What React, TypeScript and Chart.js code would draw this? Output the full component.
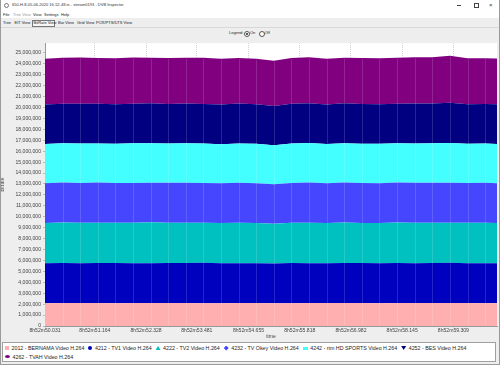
import React, { useEffect, useRef } from "react";
import { Chart, registerables } from "chart.js";

Chart.register(...registerables);

// ---- data ----
const TIMES = [
  50.031, 50.43, 50.83, 51.23, 51.63, 52.03, 52.43, 52.83, 53.23, 53.63, 54.03, 54.43, 54.83, 55.23,
  55.63, 56.03, 56.43, 56.83, 57.23, 57.63, 58.03, 58.43, 58.83, 59.23, 59.63, 60.03, 60.3,
];
const TICK_TIMES = [50.031, 51.164, 52.328, 53.481, 54.655, 55.818, 56.982, 58.145, 59.309];
const TIME_PREFIX = "8h52m";
const Y_TICKS = [
  0, 1000000, 2000000, 3000000, 4000000, 5000000, 6000000, 7000000, 8000000, 9000000, 10000000,
  11000000, 12000000, 13000000, 14000000, 15000000, 16000000, 17000000, 18000000, 19000000, 20000000,
  21000000, 22000000, 23000000, 24000000, 25000000,
];

const SERIES_NAMES = [
  "2012 - BERNAMA Video H.264",
  "4212 - TV1 Video H.264",
  "4222 - TV2 Video H.264",
  "4232 - TV Okey Video H.264",
  "4242 - rtm HD SPORTS Video H.264",
  "4252 - BES Video H.264",
  "4262 - TVAH Video H.264",
];
const COLORS = ["#ffafaf", "#0000bf", "#00c0c0", "#4646ff", "#44ffff", "#000080", "#800080"];
const MARKERS = ["square", "circle", "triangle", "diamond", "rect", "down", "ellipse"];

const BERNAMA = [2090000, 2100000, 2095000, 2105000, 2090000, 2100000, 2110000, 2095000, 2100000, 2090000, 2085000, 2100000, 2095000, 2080000, 2090000, 2100000, 2105000, 2095000, 2100000, 2090000, 2095000, 2100000, 2105000, 2110000, 2095000, 2090000, 2100000];
const TV1 = [3650000, 3670000, 3640000, 3660000, 3680000, 3650000, 3640000, 3670000, 3660000, 3690000, 3650000, 3640000, 3660000, 3630000, 3670000, 3650000, 3640000, 3680000, 3660000, 3650000, 3670000, 3640000, 3660000, 3690000, 3650000, 3660000, 3640000];
const TV2 = [3680000, 3700000, 3720000, 3690000, 3670000, 3700000, 3740000, 3690000, 3680000, 3660000, 3700000, 3720000, 3680000, 3650000, 3690000, 3710000, 3680000, 3700000, 3670000, 3690000, 3720000, 3700000, 3680000, 3660000, 3700000, 3690000, 3680000];
const TV_OKEY = [3640000, 3660000, 3630000, 3670000, 3650000, 3640000, 3620000, 3660000, 3680000, 3650000, 3630000, 3660000, 3640000, 3610000, 3650000, 3670000, 3640000, 3660000, 3650000, 3630000, 3640000, 3680000, 3660000, 3650000, 3640000, 3670000, 3650000];
const RTM_HD = [3590000, 3600000, 3620000, 3580000, 3600000, 3630000, 3610000, 3590000, 3600000, 3620000, 3580000, 3590000, 3610000, 3570000, 3600000, 3620000, 3590000, 3600000, 3610000, 3630000, 3600000, 3590000, 3620000, 3650000, 3600000, 3590000, 3600000];
const BES = [3630000, 3620000, 3650000, 3640000, 3610000, 3630000, 3660000, 3620000, 3640000, 3610000, 3630000, 3650000, 3620000, 3600000, 3640000, 3630000, 3610000, 3650000, 3640000, 3620000, 3630000, 3660000, 3640000, 3680000, 3620000, 3630000, 3640000];
const TVAH = [4180000, 4200000, 4230000, 4190000, 4210000, 4220000, 4170000, 4200000, 4190000, 4230000, 4200000, 4180000, 4150000, 4140000, 4190000, 4210000, 4200000, 4180000, 4210000, 4190000, 4200000, 4220000, 4230000, 4290000, 4200000, 4190000, 4180000];
const SERIES = [BERNAMA, TV1, TV2, TV_OKEY, RTM_HD, BES, TVAH];

const X_MAX = 60.3;
const Y_MAX = 25900000;

const FONT = "'Liberation Sans', Arial, sans-serif";

const plotBg = {
  id: "plotBg",
  beforeDraw(chart: any) {
    const { ctx, chartArea } = chart;
    ctx.save();
    ctx.fillStyle = "#ffffff";
    ctx.fillRect(chartArea.left, chartArea.top, chartArea.right - chartArea.left, chartArea.bottom - chartArea.top);
    ctx.restore();
  },
};

// faint seams between the area segments, at each sample time (as in the original renderer)
const seams = {
  id: "seams",
  afterDatasetsDraw(chart: any) {
    const { ctx, chartArea, scales } = chart;
    const top = chart.getDatasetMeta(SERIES.length - 1).data;
    ctx.save();
    ctx.beginPath();
    ctx.rect(chartArea.left, chartArea.top, chartArea.right - chartArea.left, chartArea.bottom - chartArea.top);
    ctx.clip();
    ctx.strokeStyle = "rgba(255,255,255,0.14)";
    ctx.lineWidth = 1;
    for (let j = 1; j < TIMES.length - 1; j++) {
      const x = Math.round(scales.x.getPixelForValue(TIMES[j])) + 0.5;
      const yTop = top[j].y;
      ctx.beginPath();
      ctx.moveTo(x, chartArea.bottom);
      ctx.lineTo(x, yTop + 1);
      ctx.stroke();
    }
    ctx.restore();
  },
};

function Marker({ kind, color }: { kind: string; color: string }) {
  const base: React.CSSProperties = { display: "inline-block", background: color, marginRight: 2.5, verticalAlign: "middle", position: "relative", top: -0.5 };
  let st: React.CSSProperties = { width: 4, height: 4 };
  if (kind === "circle") st = { width: 4, height: 4, borderRadius: "50%" };
  if (kind === "triangle") st = { width: 5, height: 4, clipPath: "polygon(50% 0,100% 100%,0 100%)" };
  if (kind === "diamond") st = { width: 5, height: 5, clipPath: "polygon(50% 0,100% 50%,50% 100%,0 50%)" };
  if (kind === "rect") st = { width: 5, height: 3 };
  if (kind === "down") st = { width: 5, height: 4, clipPath: "polygon(0 0,100% 0,50% 100%)" };
  if (kind === "ellipse") st = { width: 5, height: 3, borderRadius: "50%" };
  return <span style={{ ...base, ...st }} />;
}

export default function App() {
  const ref = useRef<HTMLCanvasElement | null>(null);

  useEffect(() => {
    const canvas = ref.current!;
    const datasets = SERIES.map((vals, i) => ({
      label: SERIES_NAMES[i],
      data: vals.map((v, j) => ({ x: TIMES[j], y: v })),
      backgroundColor: COLORS[i],
      borderColor: COLORS[i],
      borderWidth: 0,
      pointRadius: 0,
      fill: i === 0 ? "origin" : "-1",
      tension: 0,
    }));
    const chart = new Chart(canvas, {
      type: "line",
      data: { datasets },
      plugins: [plotBg, seams],
      options: {
        animation: false,
        responsive: false,
        layout: { padding: { top: 3, right: 3, left: 0, bottom: 0 } },
        plugins: { legend: { display: false }, tooltip: { enabled: false } },
        scales: {
          x: {
            type: "linear",
            min: TIMES[0],
            max: X_MAX,
            afterBuildTicks: (s: any) => {
              s.ticks = TICK_TIMES.map((v) => ({ value: v }));
            },
            afterFit: (s: any) => {
              s.height = 14;
            },
            ticks: {
              autoSkip: false,
              maxRotation: 0,
              padding: 0,
              color: "#444",
              font: { family: FONT, size: 5.1 },
              callback: (v: any) => TIME_PREFIX + Number(v).toFixed(3),
            },
            grid: { color: "#d2d2d2", tickLength: 2, drawTicks: true },
            border: { color: "#999", dash: [1, 1] },
            title: { display: true, text: "time", color: "#444", font: { family: FONT, size: 5.1 }, padding: 0 },
          },
          y: {
            type: "linear",
            stacked: true,
            min: 0,
            max: Y_MAX,
            afterBuildTicks: (s: any) => {
              s.ticks = Y_TICKS.map((v) => ({ value: v }));
            },
            afterFit: (s: any) => {
              s.width = 45;
            },
            ticks: {
              autoSkip: false,
              padding: 2,
              color: "#444",
              font: { family: FONT, size: 5.1 },
              callback: (v: any) => Number(v).toLocaleString("en-US"),
            },
            grid: { color: "#bbbbbb", tickLength: 2, drawOnChartArea: false },
            border: { color: "#999" },
            title: { display: true, text: "bitrate", color: "#444", font: { family: FONT, size: 5.1 }, padding: 0 },
          },
        },
      } as any,
    });
    return () => chart.destroy();
  }, []);

  const small: React.CSSProperties = { position: "absolute", fontFamily: FONT, fontSize: 4, color: "#222", whiteSpace: "nowrap", lineHeight: "6px" };

  return (
    <div style={{ position: "fixed", left: 0, top: 0, width: 500, height: 365, background: "#eeeeee", overflow: "hidden", fontFamily: FONT, boxSizing: "border-box", borderLeft: "1px solid #9a9a9a", borderRight: "1px solid #9a9a9a", borderBottom: "1px solid #9a9a9a" }}>
      {/* title bar */}
      <div style={{ position: "absolute", left: 0, top: 0, width: 500, height: 10, background: "#ffffff" }} />
      <div style={{ position: "absolute", left: 3, top: 3, width: 3, height: 3, borderRadius: "50%", border: "0.7px solid #777" }} />
      <div style={{ ...small, left: 11, top: 2, color: "#333" }}>650-H-8-05-06-2020 16-52-48.ts - stream0193 - DVB Inspector</div>
      <div style={{ position: "absolute", left: 456, top: 5, width: 4, height: 0.7, background: "#444" }} />
      <div style={{ position: "absolute", left: 473, top: 3, width: 3, height: 3, border: "0.7px solid #444" }} />
      <div style={{ ...small, left: 488, top: 1.5, fontSize: 6, color: "#333" }}>×</div>
      {/* menu bar */}
      <div style={{ position: "absolute", left: 0, top: 10, width: 500, height: 8, background: "#ffffff" }} />
      <div style={{ ...small, left: 2, top: 11.5 }}>File</div>
      <div style={{ ...small, left: 12, top: 11.5, color: "#999" }}>Tree View</div>
      <div style={{ ...small, left: 32, top: 11.5 }}>View</div>
      <div style={{ ...small, left: 43, top: 11.5 }}>Settings</div>
      <div style={{ ...small, left: 60, top: 11.5 }}>Help</div>
      {/* tabs */}
      <div style={{ position: "absolute", left: 0, top: 18, width: 500, height: 9, background: "#eeeeee", borderBottom: "1px solid #d8d8d8" }} />
      <div style={{ ...small, left: 2, top: 20 }}>Tree</div>
      <div style={{ ...small, left: 13.5, top: 20 }}>EIT View</div>
      <div style={{ position: "absolute", left: 31, top: 19.5, width: 23, height: 7, border: "0.6px solid #777", background: "#f6f6f6", boxSizing: "border-box" }} />
      <div style={{ ...small, left: 32.5, top: 20 }}>BitRate View</div>
      <div style={{ ...small, left: 57, top: 20 }}>Bar View</div>
      <div style={{ ...small, left: 76, top: 20 }}>Grid View</div>
      <div style={{ ...small, left: 95, top: 20 }}>PCR/PTS/DTS View</div>
      {/* legend radio */}
      <div style={{ ...small, left: 228, top: 30 }}>Legend:</div>
      <div style={{ position: "absolute", left: 243, top: 30.5, width: 4, height: 4, borderRadius: "50%", border: "0.6px solid #555", background: "#fff" }}>
        <div style={{ position: "absolute", left: 1, top: 1, width: 2, height: 2, borderRadius: "50%", background: "#222" }} />
      </div>
      <div style={{ ...small, left: 249, top: 30 }}>On</div>
      <div style={{ position: "absolute", left: 258, top: 30.5, width: 4, height: 4, borderRadius: "50%", border: "0.6px solid #555", background: "#fff" }} />
      <div style={{ ...small, left: 263.5, top: 30 }}>Off</div>
      {/* chart */}
      <canvas ref={ref} width={500} height={302} style={{ position: "absolute", left: -1, top: 38, width: 500, height: 302 }} />
      {/* legend */}
      <div
        style={{
          position: "absolute",
          left: 1,
          top: 342,
          width: 494,
          height: 20,
          background: "#ffffff",
          border: "1px solid #a0a0a0",
          boxSizing: "border-box",
          padding: "1px 2px",
          display: "flex",
          flexWrap: "wrap",
          alignContent: "flex-start",
        }}
      >
        {SERIES_NAMES.map((n, i) => (
          <span key={n} style={{ fontSize: 5.3, lineHeight: "8.5px", color: "#222", marginRight: 4, whiteSpace: "nowrap" }}>
            <Marker kind={MARKERS[i]} color={COLORS[i]} />
            {n}
          </span>
        ))}
      </div>
    </div>
  );
}
